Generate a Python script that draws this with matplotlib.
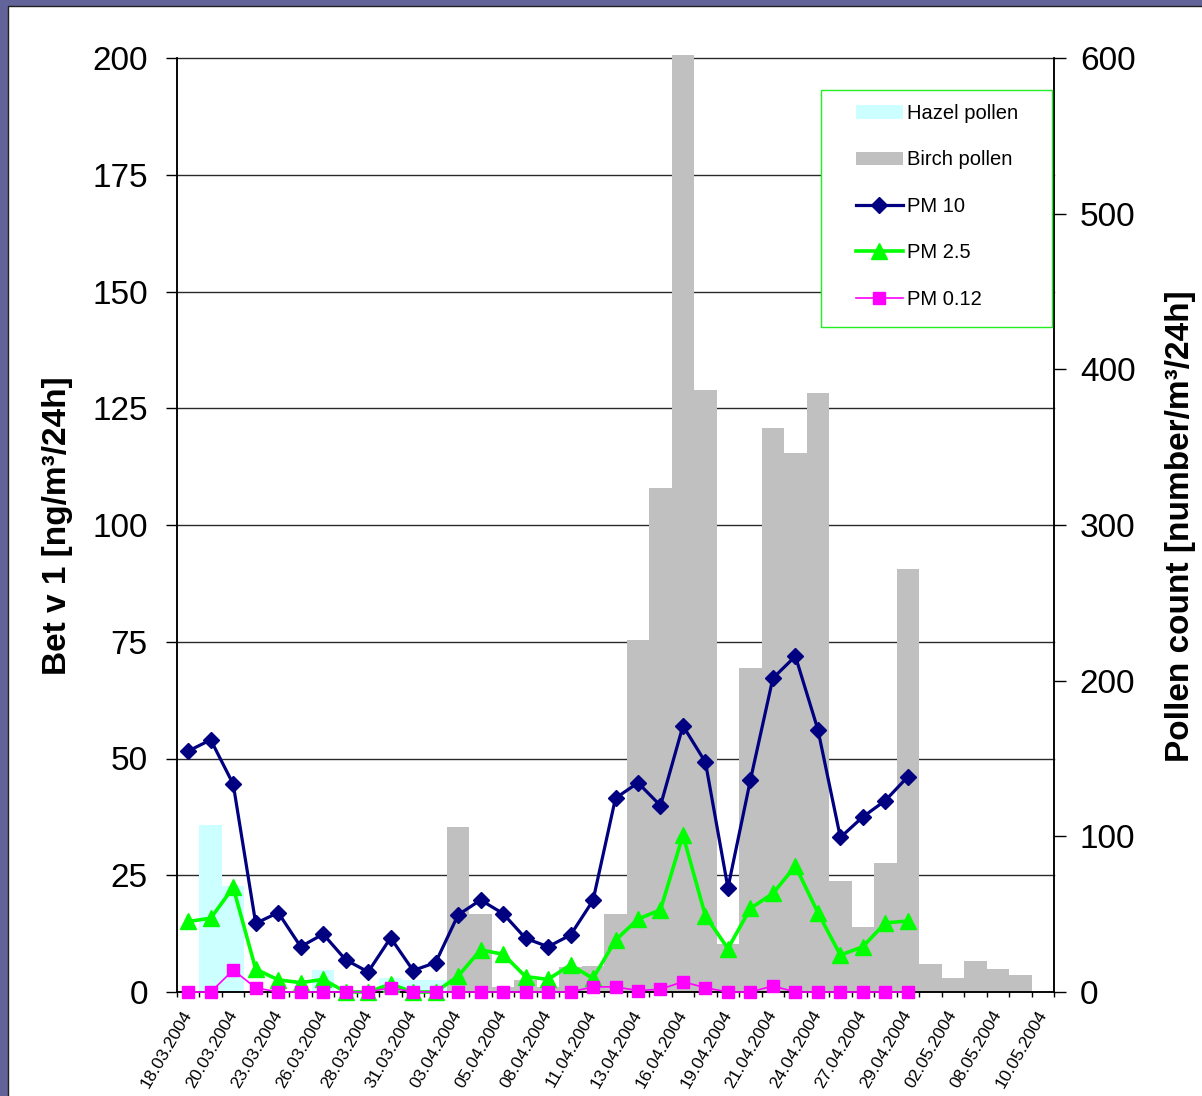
import matplotlib
matplotlib.use('Agg')
import matplotlib.pyplot as plt
import matplotlib.transforms as mtransforms
from matplotlib.patches import Rectangle
import numpy as np

plt.rcParams['font.family'] = ['Liberation Sans', 'DejaVu Sans']

# ---------------- data ----------------
date_labels = ['18.03.2004', '20.03.2004', '23.03.2004', '26.03.2004', '28.03.2004',
               '31.03.2004', '03.04.2004', '05.04.2004', '08.04.2004', '11.04.2004',
               '13.04.2004', '16.04.2004', '19.04.2004', '21.04.2004', '24.04.2004',
               '27.04.2004', '29.04.2004', '02.05.2004', '08.05.2004', '10.05.2004']
n_categories = 39

hazel_pollen = [0, 107, 68, 0, 0, 0, 14, 0, 0, 9, 8, 8, 0, 0, 0, 0, 0, 0, 0, 0,
                0, 0, 0, 0, 0, 0, 0, 0, 0, 0, 0, 0, 0, 0, 0, 0, 0, 0, 0]
birch_pollen = [0, 0, 0, 0, 0, 0, 0, 0, 0, 0, 0, 0, 106, 50, 3, 8, 3, 16, 17, 50,
                226, 324, 602, 387, 31, 208, 362, 346, 385, 71, 42, 83, 272, 18, 9, 20, 15, 11, 0]

pm10 = [51.6, 54.0, 44.5, 14.7, 17.0, 9.7, 12.4, 6.9, 4.3, 11.6, 4.6, 6.3, 16.5,
        19.7, 16.8, 11.5, 9.7, 12.2, 19.6, 41.5,
        44.8, 39.9, 57.0, 49.2, 22.3, 45.4, 67.2, 71.9, 56.2, 33.1, 37.5, 41.0, 46.1]
pm25 = [15.1, 15.8, 22.4, 4.9, 2.6, 2.0, 2.7, 0, 0, 1.7, 0, 0, 3.4,
        9.0, 8.1, 3.3, 2.7, 5.8, 2.9, 11.1,
        15.6, 17.6, 33.6, 16.3, 9.3, 17.9, 21.1, 27.0, 17.0, 7.9, 9.7, 14.8, 15.2]
pm012 = [0, 0, 4.7, 0.9, 0, 0, 0, 0, 0, 0.9, 0, 0, 0,
         0, 0, 0, 0, 0, 1.1, 1.1,
         0.3, 0.6, 2.2, 0.9, 0, 0, 1.3, 0, 0, 0, 0, 0, 0]

left_ticks = list(range(0, 201, 25))
right_ticks = list(range(0, 601, 100))

# ---------------- figure ----------------
W, H = 1202, 1096
fig = plt.figure(figsize=(W / 100, H / 100), dpi=100)
fig.patch.set_facecolor('#626398')
fig.patches.append(Rectangle((7.5 / W, -0.02), 1.05, 1.02 - 5.5 / H,
                             transform=fig.transFigure, facecolor='white',
                             edgecolor='#202020', linewidth=1.0, zorder=-5))

ax_bars = fig.add_axes([177 / W, 1 - 992 / H, 877 / W, 934 / H])
ax_lines = ax_bars.twinx()

x_cat = np.arange(n_categories)
x_pm = np.arange(len(pm10))

ax_bars.set_xlim(-0.5, n_categories - 0.5)
ax_bars.set_ylim(0, 600)
ax_lines.set_ylim(0, 200)

# gridlines (left scale) drawn beneath bars
trans = mtransforms.blended_transform_factory(ax_bars.transAxes, ax_lines.transData)
for v in left_ticks[1:]:
    ax_bars.plot([0, 1], [v, v], transform=trans, color='#2a2a2a', lw=1.0,
                 zorder=0.5, clip_on=False)

hb = ax_bars.bar(x_cat, hazel_pollen, width=1.0, color='#ccffff', zorder=1,
                 label='Hazel pollen')
bb = ax_bars.bar(x_cat, birch_pollen, width=1.0, color='#c0c0c0', zorder=1.1,
                 label='Birch pollen')
for p in bb:
    p.set_clip_on(False)

l10, = ax_lines.plot(x_pm, pm10, color='#000080', lw=2.3, marker='D', ms=8.2,
                     label='PM 10', clip_on=False, zorder=3)
l25, = ax_lines.plot(x_pm, pm25, color='#00ff00', lw=2.6, marker='^', ms=11,
                     label='PM 2.5', clip_on=False, zorder=4)
l012, = ax_lines.plot(x_pm, pm012, color='#ff00ff', lw=1.2, marker='s', ms=8,
                      label='PM 0.12', clip_on=False, zorder=5)

# axes styling
ax_bars.yaxis.tick_right()
ax_lines.yaxis.tick_left()
ax_bars.set_yticks(right_ticks)
ax_lines.set_yticks(left_ticks)
for a in (ax_bars, ax_lines):
    a.spines['top'].set_visible(False)
    for s in ('left', 'right', 'bottom'):
        a.spines[s].set_linewidth(1.1)
        a.spines[s].set_color('black')

ax_lines.tick_params(axis='y', direction='out', length=8, width=1.0,
                     labelsize=24, pad=13)
ax_bars.tick_params(axis='y', direction='out', length=8.6, width=1.0,
                    labelsize=24, pad=10)

ax_bars.set_xticks(np.arange(0, n_categories, 2))
ax_bars.set_xticklabels(date_labels, rotation=60, ha='right', va='center',
                        rotation_mode='anchor', fontsize=12.5)
ax_bars.set_xticks(np.arange(-0.5, n_categories, 1.0), minor=True)
ax_bars.tick_params(axis='x', which='major', length=0, pad=14)
ax_bars.tick_params(axis='x', which='minor', length=3.6, width=1.0, direction='out')
ax_lines.xaxis.set_visible(False)

fig.text(58 / W, 1 - 526 / H, 'Bet v 1 [ng/m³/24h]', rotation=90, ha='center',
         va='center', fontsize=24, fontweight='bold')
fig.text(1180 / W, 1 - 526 / H, 'Pollen count [number/m³/24h]', rotation=90,
         ha='center', va='center', fontsize=24, fontweight='bold')

# legend box
fig.patches.append(Rectangle((821 / W, 1 - 327 / H), (1052 - 821) / W, (327 - 90) / H,
                             transform=fig.transFigure, facecolor='white',
                             edgecolor='#22ee22', linewidth=1.0, zorder=2))
leg = fig.legend([hb, bb, l10, l25, l012],
                 ['Hazel pollen', 'Birch pollen', 'PM 10', 'PM 2.5', 'PM 0.12'],
                 loc='upper left', bbox_to_anchor=(856 / W, 1 - 104 / H),
                 frameon=False, fontsize=14.5, handlelength=2.33,
                 handletextpad=0.2, labelspacing=1.36, borderpad=0,
                 borderaxespad=0, handleheight=0.65)
leg.set_zorder(6)

fig.savefig('out.png', dpi=100, facecolor=fig.get_facecolor())
